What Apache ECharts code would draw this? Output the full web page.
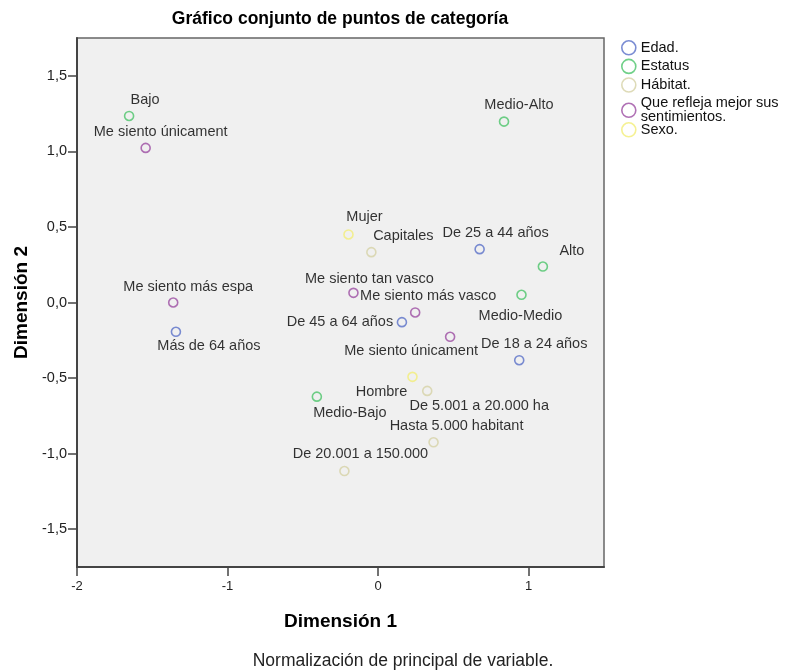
<!DOCTYPE html>
<html>
<head>
<meta charset="utf-8">
<script src="https://cdn.jsdelivr.net/npm/echarts@6/dist/echarts.min.js"></script>
<style>
    html, body { margin: 0; padding: 0; background: #fff; }
    #chart { width: 785px; height: 672px; }
</style>
</head>
<body>
<div id="chart"></div>
<script>
// category point coordinates (Dimensión 1, Dimensión 2)
const edadNames = ["De 25 a 44 años", "De 45 a 64 años", "De 18 a 24 años", "Más de 64 años"];
const edadX = [0.674, 0.158, 0.937, -1.343];
const edadY = [0.353, -0.130, -0.382, -0.194];

const estatusNames = ["Bajo", "Medio-Alto", "Alto", "Medio-Medio", "Medio-Bajo"];
const estatusX = [-1.654, 0.836, 1.094, 0.952, -0.407];
const estatusY = [1.234, 1.197, 0.238, 0.051, -0.623];

const habitatNames = ["Capitales", "De 5.001 a 20.000 ha", "Hasta 5.000 habitant", "De 20.001 a 150.000"];
const habitatX = [-0.045, 0.326, 0.368, -0.224];
const habitatY = [0.333, -0.585, -0.925, -1.115];

const sentNames = ["Me siento únicament", "Me siento tan vasco", "Me siento más vasco", "Me siento únicament", "Me siento más espa"];
const sentX = [-1.544, -0.164, 0.246, 0.478, -1.361];
const sentY = [1.023, 0.064, -0.066, -0.227, 0.000];

const sexoNames = ["Mujer", "Hombre"];
const sexoX = [-0.197, 0.228];
const sexoY = [0.450, -0.492];

const xTicks = [-2, -1, 0, 1];
const yTicks = [-1.5, -1, -0.5, 0, 0.5, 1, 1.5];

// label placement (pixel offsets from the point), kept apart from data
const edadOffsets = [[16, -16], [-62, 0], [15, -16], [33, 14]];
const estatusOffsets = [[16, -16], [15, -17], [29, -16], [-1, 21], [33, 16]];
const habitatOffsets = [[32, -16], [52, 15], [23, -16], [16, -17]];
const sentOffsets = [[15, -16], [16, -14], [13, -16], [-39, 14], [15, -16]];
const sexoOffsets = [[16, -17], [-31, 15]];

const FONT = "'Liberation Sans', Arial, sans-serif";

function buildSeries(name, color, names, xs, ys, offsets) {
    return {
        name: name,
        type: "scatter",
        symbol: "circle",
        symbolSize: 9,
        itemStyle: {
            color: "rgba(0,0,0,0)",
            borderColor: color,
            borderWidth: 1.6
        },
        label: {
            show: true,
            position: "inside",
            color: "#000",
            fontSize: 14.5,
            fontFamily: FONT,
            textBorderWidth: 0,
            textBorderColor: "transparent",
            formatter: p => p.name
        },
        emphasis: { disabled: true },
        data: names.map((n, i) => ({
            name: n,
            value: [xs[i], ys[i]],
            label: { offset: offsets[i] }
        }))
    };
}

const seriesDefs = [
    ["Edad.", "#5a70c8", edadNames, edadX, edadY, edadOffsets],
    ["Estatus", "#4cc46a", estatusNames, estatusX, estatusY, estatusOffsets],
    ["Hábitat.", "#d6d2a6", habitatNames, habitatX, habitatY, habitatOffsets],
    ["Que refleja mejor sus sentimientos.", "#9c4ea2", sentNames, sentX, sentY, sentOffsets],
    ["Sexo.", "#f2ee78", sexoNames, sexoX, sexoY, sexoOffsets]
];

function legendItem(d) {
    return {
        name: d[0],
        icon: "circle",
        itemStyle: { color: "rgba(0,0,0,0)", borderColor: d[1], borderWidth: 1.6 }
    };
}

const legendBase = {
    orient: "vertical",
    left: 621,
    padding: 0,
    itemWidth: 14,
    itemHeight: 14,
    itemGap: 3,
    selectedMode: false,
    textStyle: { fontSize: 14.5, color: "#111", fontFamily: FONT, lineHeight: 14 },
    formatter: n => n === "Que refleja mejor sus sentimientos." ? "Que refleja mejor sus\nsentimientos." : n
};

let chart = echarts.init(document.getElementById("chart"));
chart.setOption({
    animation: false,
    textStyle: { fontFamily: FONT },
    grid: {
        left: 77,
        top: 38,
        right: 181,
        bottom: 105,
        show: true,
        backgroundColor: "#f0f0f0",
        borderColor: "#666",
        borderWidth: 1.5
    },
    graphic: [
        {
            type: "text",
            x: 340,
            y: 10,
            style: {
                text: "Gráfico conjunto de puntos de categoría",
                font: "bold 17.5px " + FONT,
                fill: "#000",
                align: "center"
            }
        },
        {
            type: "text",
            x: 403,
            y: 652,
            style: {
                text: "Normalización de principal de variable.",
                font: "17.5px " + FONT,
                fill: "#222",
                align: "center"
            }
        }
    ],
    legend: [
        Object.assign({}, legendBase, { top: 40, data: seriesDefs.slice(0, 4).map(legendItem) }),
        Object.assign({}, legendBase, { top: 122, data: seriesDefs.slice(4).map(legendItem) })
    ],
    xAxis: {
        type: "value",
        min: -2,
        max: 1.5,
        name: "Dimensión 1",
        nameLocation: "middle",
        nameGap: 45,
        nameTextStyle: { fontSize: 19, fontWeight: "bold", color: "#000", fontFamily: FONT },
        splitLine: { show: false },
        axisLine: { show: true, onZero: false, lineStyle: { color: "#444", width: 2 } },
        axisTick: { show: true, length: 9, customValues: xTicks, lineStyle: { color: "#444", width: 1.5 } },
        axisLabel: {
            customValues: xTicks,
            color: "#222",
            fontSize: 13,
            fontFamily: FONT,
            margin: 13,
            formatter: v => String(v)
        }
    },
    yAxis: {
        type: "value",
        min: -1.75,
        max: 1.75,
        name: "Dimensión 2",
        nameLocation: "middle",
        nameGap: 45,
        nameTextStyle: { fontSize: 19, fontWeight: "bold", color: "#000", fontFamily: FONT },
        splitLine: { show: false },
        axisLine: { show: true, onZero: false, lineStyle: { color: "#444", width: 2 } },
        axisTick: { show: true, length: 9, customValues: yTicks, lineStyle: { color: "#444", width: 1.5 } },
        axisLabel: {
            customValues: yTicks,
            color: "#222",
            fontSize: 14.5,
            fontFamily: FONT,
            margin: 10,
            formatter: v => v.toFixed(1).replace(".", ",")
        }
    },
    series: seriesDefs.map(d => buildSeries(d[0], d[1], d[2], d[3], d[4], d[5]))
});
</script>
</body>
</html>
